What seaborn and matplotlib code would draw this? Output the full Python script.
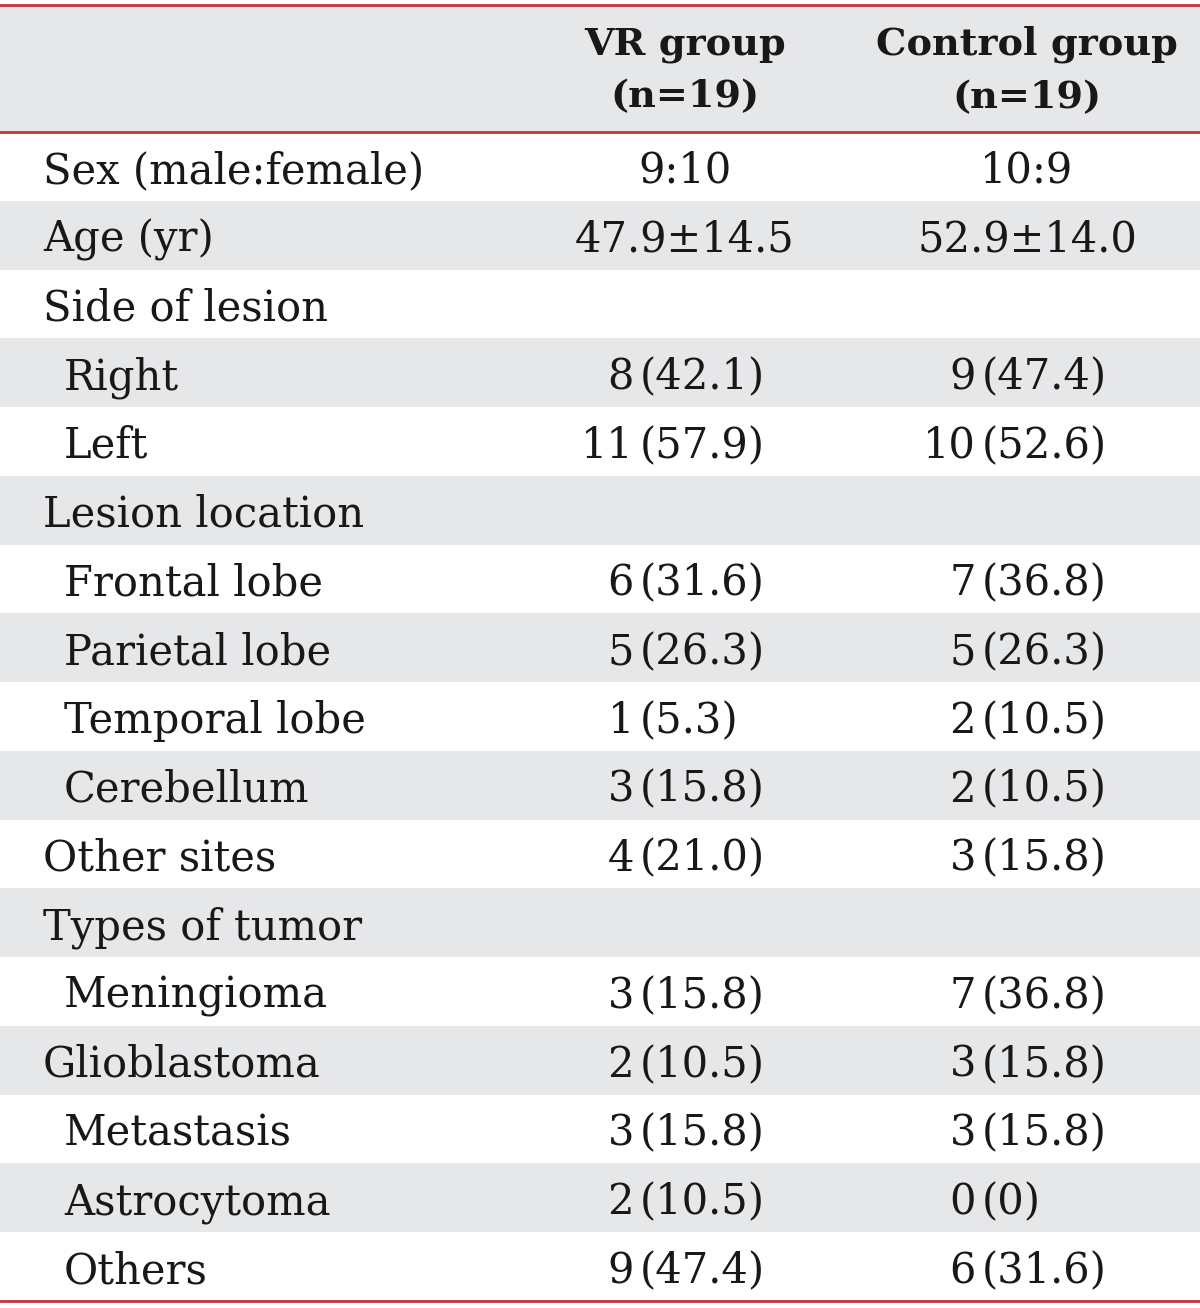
import matplotlib.pyplot as plt
import seaborn as sns

# table content
row_labels = ["Sex (male:female)", "Age (yr)", "Side of lesion", "Right", "Left",
              "Lesion location", "Frontal lobe", "Parietal lobe", "Temporal lobe",
              "Cerebellum", "Other sites", "Types of tumor", "Meningioma",
              "Glioblastoma", "Metastasis", "Astrocytoma", "Others"]
indented = [False, False, False, True, True, False, True, True, True, True,
            False, False, True, False, True, True, True]
vr_values = ["9:10", "47.9\u00b114.5", "", "8 (42.1)", "11 (57.9)", "", "6 (31.6)",
             "5 (26.3)", "1 (5.3)", "3 (15.8)", "4 (21.0)", "", "3 (15.8)",
             "2 (10.5)", "3 (15.8)", "2 (10.5)", "9 (47.4)"]
control_values = ["10:9", "52.9\u00b114.0", "", "9 (47.4)", "10 (52.6)", "", "7 (36.8)",
                  "5 (26.3)", "2 (10.5)", "2 (10.5)", "3 (15.8)", "", "7 (36.8)",
                  "3 (15.8)", "3 (15.8)", "0 (0)", "6 (31.6)"]
col_headers = ["VR group\n(n=19)", "Control group\n(n=19)"]

sns.set_style("white")
plt.rcParams['font.family'] = ['DejaVu Serif']

W, H = 1200, 1308
fig = plt.figure(figsize=(W / 100, H / 100), dpi=100)
ax = fig.add_axes([0, 0, 1, 1])
ax.set_xlim(0, W)
ax.set_ylim(H, 0)
ax.axis("off")

gray = "#e6e7e9"
red = "#c8323c"
ink = "#1a1718"
fs = 30

top = 5
header_bottom = 132
row_h = (1301 - header_bottom) / len(row_labels)
col_centers = [685, 1027]
split_x = [640, 982]

ax.axhspan(top, header_bottom, color=gray, lw=0)
for i, (lab, ind, v1, v2) in enumerate(zip(row_labels, indented, vr_values, control_values)):
    y0 = header_bottom + i * row_h
    yc = y0 + row_h / 2
    if i % 2 == 1:
        ax.axhspan(y0, y0 + row_h, color=gray, lw=0)
    ax.text(64 if ind else 43, yc, lab, fontsize=fs, va="center_baseline", ha="left", color=ink)
    for v, cx, sx in zip([v1, v2], col_centers, split_x):
        if not v:
            continue
        if " (" in v:
            n, p = v.split(" ", 1)
            ax.text(sx - 6, yc, n, fontsize=fs, va="center_baseline", ha="right", color=ink)
            ax.text(sx, yc, p, fontsize=fs, va="center_baseline", ha="left", color=ink)
        else:
            ax.text(cx, yc, v, fontsize=fs, va="center_baseline", ha="center", color=ink)

for h, cx in zip(col_headers, col_centers):
    ax.text(cx, (top + header_bottom) / 2 + 2, h, fontsize=27.5, fontweight="bold",
            va="center", ha="center", color=ink, linespacing=1.55)

for y in [top, header_bottom, 1301]:
    ax.axhline(y, color=red, lw=2)

fig.savefig("out.png", dpi=100)
